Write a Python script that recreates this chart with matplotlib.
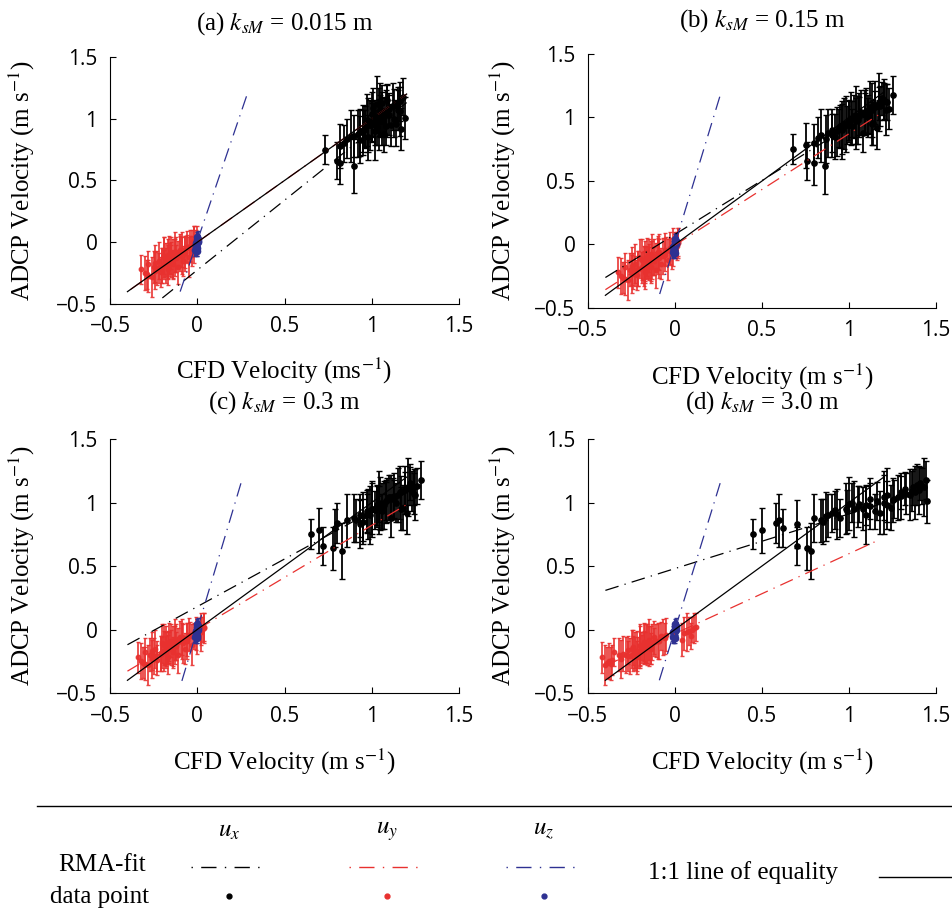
#!/usr/bin/env python3
"""CFD vs ADCP velocity comparison for four bed roughness values."""

import matplotlib
matplotlib.use("Agg")
import matplotlib.pyplot as plt

plt.rcParams["font.family"] = ["Liberation Serif", "DejaVu Serif"]
plt.rcParams["mathtext.fontset"] = "stix"

TICK_FONT = ["Open Sans", "DejaVu Sans"]

PANEL_TITLES = [r"(a) $k_{sM}$ = 0.015 m", r"(b) $k_{sM}$ = 0.15 m",
                r"(c) $k_{sM}$ = 0.3 m", r"(d) $k_{sM}$ = 3.0 m"]
XLABELS = [r"CFD Velocity (ms$^{-1}$)", r"CFD Velocity (m s$^{-1}$)",
           r"CFD Velocity (m s$^{-1}$)", r"CFD Velocity (m s$^{-1}$)"]
YLABEL = r"ADCP Velocity (m s$^{-1}$)"
TICKS = [-0.5, 0, 0.5, 1, 1.5]
TICK_LABELS = ["\u22120.5", "0", "0.5", "1", "1.5"]

# ADCP (measured) values, shared by all panels
ux_adcp = [0.75, 0.66, 0.64, 0.62, 0.78, 0.84, 0.86, 0.80, 0.88, 0.90,
           0.92, 0.85, 0.95, 0.97, 0.90, 0.93, 1.00, 1.02, 0.98, 0.88,
           1.05, 1.08, 1.03, 0.95, 1.10, 1.12, 1.00, 0.96, 1.07, 1.15,
           1.06, 0.92, 1.18, 1.04, 0.99, 1.09, 0.83, 1.13, 1.01, 0.94,
           0.97, 1.03, 0.91, 1.11, 0.86, 1.06, 0.99, 1.14, 0.89, 1.01,
           1.08, 0.95, 1.12, 0.93, 1.04, 0.98]
ux_err = [0.12, 0.15, 0.17, 0.22, 0.18, 0.16, 0.21, 0.15, 0.19, 0.17,
          0.15, 0.18, 0.20, 0.16, 0.23, 0.14, 0.25, 0.17, 0.19, 0.15,
          0.18, 0.21, 0.16, 0.17, 0.19, 0.23, 0.15, 0.18, 0.16, 0.13,
          0.20, 0.17, 0.15, 0.18, 0.21, 0.16, 0.19, 0.14, 0.17, 0.15,
          0.18, 0.15, 0.20, 0.13, 0.17, 0.21, 0.14, 0.16, 0.19, 0.15,
          0.13, 0.22, 0.14, 0.17, 0.18, 0.16]
uy_adcp = [-0.22, -0.25, -0.18, -0.28, -0.20, -0.15, -0.24, -0.19, -0.12, -0.16,
           -0.22, -0.10, -0.14, -0.18, -0.08, -0.13, -0.20, -0.06, -0.11, -0.15,
           -0.09, -0.05, -0.12, -0.03, -0.07, -0.02, -0.10, 0.00, -0.04, 0.02,
           -0.17, -0.26, -0.21, -0.13, -0.09, -0.01, -0.06, 0.01, -0.11, -0.14,
           -0.19, -0.14, -0.23, -0.10, -0.17, -0.08, -0.21, -0.12, -0.16, -0.05,
           -0.27, -0.13, -0.18, -0.09, -0.15]
uy_err = [0.12, 0.14, 0.11, 0.16, 0.13, 0.15, 0.12, 0.14, 0.16, 0.11,
          0.13, 0.15, 0.14, 0.12, 0.16, 0.11, 0.14, 0.13, 0.15, 0.12,
          0.14, 0.11, 0.16, 0.13, 0.12, 0.15, 0.14, 0.10, 0.13, 0.11,
          0.15, 0.12, 0.14, 0.16, 0.13, 0.11, 0.14, 0.12, 0.15, 0.13,
          0.14, 0.12, 0.15, 0.11, 0.16, 0.13, 0.12, 0.15, 0.14, 0.10,
          0.13, 0.16, 0.12, 0.14, 0.11]
uz_adcp = [-0.06, -0.04, -0.02, 0.00, 0.02, 0.03, -0.01,
           -0.03, 0.01, -0.05, 0.04, -0.02, 0.00, -0.07]
uz_err = [0.05, 0.04, 0.06, 0.05, 0.04, 0.06, 0.05,
          0.04, 0.05, 0.06, 0.04, 0.05, 0.06, 0.04]

# CFD (modelled) values, one list per panel
ux_cfd = [
    [0.73, 0.80, 0.82, 0.90, 0.82, 0.86, 0.88, 0.84, 0.92, 0.95,
     0.96, 0.98, 0.99, 1.00, 1.02, 1.03, 1.04, 1.05, 1.06, 1.07,
     1.08, 1.05, 1.10, 1.11, 1.12, 1.03, 1.13, 1.14, 1.15, 1.09,
     1.16, 1.17, 1.18, 1.00, 0.97, 1.01, 0.93, 1.06, 1.19, 1.08,
     1.02, 1.07, 0.95, 1.13, 0.90, 1.09, 1.01, 1.16, 0.93, 1.04,
     1.10, 0.98, 1.15, 0.96, 1.06, 1.00],
    [0.68, 0.76, 0.80, 0.86, 0.75, 0.82, 0.84, 0.80, 0.88, 0.90,
     0.94, 0.92, 0.97, 1.00, 0.96, 1.02, 1.04, 1.06, 1.05, 1.08,
     1.10, 1.12, 1.09, 1.13, 1.15, 1.17, 1.11, 1.14, 1.23, 1.19,
     1.21, 1.16, 1.25, 1.07, 1.01, 1.18, 0.87, 1.20, 1.03, 0.99,
     1.04, 1.11, 0.96, 1.17, 0.90, 1.13, 1.02, 1.20, 0.93, 1.06,
     1.15, 0.98, 1.22, 0.95, 1.09, 1.00],
    [0.65, 0.72, 0.78, 0.83, 0.70, 0.80, 0.86, 0.79, 0.90, 0.93,
     0.97, 0.95, 1.00, 1.03, 0.99, 1.06, 1.04, 1.09, 1.07, 1.11,
     1.13, 1.16, 1.12, 1.17, 1.19, 1.21, 1.14, 1.18, 1.24, 1.22,
     1.25, 1.20, 1.28, 1.10, 1.05, 1.23, 0.93, 1.26, 1.08, 1.02,
     1.06, 1.13, 0.98, 1.19, 0.91, 1.15, 1.04, 1.22, 0.95, 1.08,
     1.17, 1.00, 1.24, 0.97, 1.11, 1.03],
    [0.45, 0.70, 0.76, 0.78, 0.50, 0.58, 0.60, 0.62, 0.80, 0.88,
     0.90, 0.85, 0.98, 1.05, 1.10, 1.15, 1.20, 1.25, 1.22, 0.95,
     1.30, 1.38, 1.12, 1.08, 1.40, 1.43, 1.02, 1.24, 1.33, 1.41,
     1.35, 1.18, 1.44, 1.28, 1.00, 1.36, 0.70, 1.42, 1.45, 0.92,
     1.12, 1.26, 0.93, 1.32, 0.84, 1.22, 1.06, 1.39, 0.87, 1.16,
     1.30, 1.03, 1.37, 0.99, 1.20, 1.10],
]
uy_cfd = [
    [-0.32, -0.30, -0.28, -0.26, -0.25, -0.22, -0.21, -0.20, -0.19, -0.18,
     -0.17, -0.16, -0.15, -0.14, -0.13, -0.12, -0.11, -0.10, -0.09, -0.08,
     -0.07, -0.06, -0.05, -0.04, -0.03, -0.02, -0.12, -0.01, -0.06, 0.00,
     -0.24, -0.29, -0.23, -0.17, -0.15, -0.03, -0.09, -0.02, -0.19, -0.16,
     -0.20, -0.15, -0.24, -0.11, -0.18, -0.07, -0.22, -0.13, -0.17, -0.04,
     -0.28, -0.14, -0.19, -0.10, -0.16],
    [-0.33, -0.31, -0.29, -0.27, -0.26, -0.23, -0.22, -0.21, -0.19, -0.18,
     -0.17, -0.16, -0.15, -0.14, -0.13, -0.12, -0.11, -0.10, -0.09, -0.08,
     -0.07, -0.05, -0.04, -0.03, -0.02, -0.01, -0.12, 0.00, -0.06, 0.02,
     -0.25, -0.30, -0.24, -0.17, -0.15, 0.01, -0.09, 0.02, -0.20, -0.16,
     -0.21, -0.15, -0.25, -0.11, -0.18, -0.06, -0.23, -0.13, -0.17, -0.03,
     -0.29, -0.14, -0.19, -0.10, -0.16],
    [-0.34, -0.32, -0.30, -0.28, -0.27, -0.24, -0.23, -0.21, -0.19, -0.18,
     -0.17, -0.16, -0.15, -0.14, -0.13, -0.12, -0.11, -0.10, -0.08, -0.07,
     -0.06, -0.04, -0.03, -0.01, 0.00, 0.02, -0.12, 0.03, -0.05, 0.04,
     -0.26, -0.31, -0.25, -0.18, -0.15, 0.02, -0.09, 0.04, -0.20, -0.17,
     -0.21, -0.16, -0.26, -0.11, -0.19, -0.06, -0.23, -0.13, -0.18, -0.02,
     -0.30, -0.14, -0.20, -0.09, -0.17],
    [-0.42, -0.38, -0.35, -0.40, -0.32, -0.25, -0.36, -0.30, -0.20, -0.27,
     -0.22, -0.18, -0.24, -0.21, -0.15, -0.19, -0.28, -0.12, -0.17, -0.14,
     -0.10, -0.08, -0.16, 0.05, -0.06, 0.07, -0.13, 0.10, -0.05, 0.12,
     -0.23, -0.39, -0.26, -0.20, -0.11, 0.08, -0.07, 0.11, -0.16, -0.18,
     -0.24, -0.17, -0.31, -0.12, -0.22, 0.04, -0.27, -0.14, -0.20, 0.09,
     -0.37, -0.15, -0.23, -0.09, -0.19],
]
uz_cfd = [
    [-0.012, -0.008, -0.005, -0.003, 0.000, 0.002, -0.010,
     -0.006, 0.003, -0.004, 0.001, -0.009, 0.005, -0.002],
    [-0.010, -0.007, -0.004, -0.002, 0.001, 0.003, -0.008,
     -0.005, 0.004, -0.003, 0.002, -0.009, 0.006, -0.001],
    [-0.011, -0.008, -0.006, -0.002, 0.000, 0.003, -0.009,
     -0.005, 0.002, -0.004, 0.001, -0.010, 0.004, -0.002],
    [-0.010, -0.006, -0.004, -0.001, 0.002, 0.004, -0.008,
     -0.004, 0.003, -0.003, 0.002, -0.009, 0.005, -0.001],
]

# RMA fits per panel: slope, intercept, x range
ux_fit = [(1.13, -0.225, -0.20, 1.20), (0.85, 0.08, -0.40, 1.20),
          (0.75, 0.18, -0.40, 1.20), (0.43, 0.48, -0.40, 1.20)]
uy_fit = [(1.00, 0.00, -0.38, 1.20), (0.877, -0.005, -0.40, 1.18),
          (0.82, 0.00, -0.40, 1.195), (0.63, -0.033, -0.40, 1.165)]
uz_fit = [(4.16, 0.008, -0.098, 0.287), (4.50, 0.006, -0.088, 0.264),
          (4.60, 0.00, -0.088, 0.258), (4.44, 0.00, -0.09, 0.27)]
EQ_RANGE = (-0.40, 1.20)

C_X = "black"
C_Y = "#e8312f"
C_Z = "#2e3192"
DASHDOT = (0, (11, 5, 1, 5))

W, H = 952, 921
# axes boxes in pixels: left, top, right, bottom
BOXES = [(110, 57, 459, 304), (588, 54, 936, 308),
         (110, 439, 459, 693), (588, 439, 936, 693)]
YLAB_X = [-0.21, -0.20, -0.21, -0.20]
TITLE_PAD = [20, 19.5, 22, 22]

fig = plt.figure(figsize=(W / 100, H / 100), dpi=100)

for i, (l, t, r, b) in enumerate(BOXES):
    ax = fig.add_axes([l / W, 1 - b / H, (r - l) / W, (b - t) / H])
    ax.errorbar(uy_cfd[i], uy_adcp, yerr=uy_err, fmt="o", color=C_Y, ms=3.2,
                elinewidth=1.3, capsize=1.2, alpha=0.9, zorder=2)
    ax.errorbar(ux_cfd[i], ux_adcp, yerr=ux_err, fmt="o", color=C_X, ms=3.8,
                elinewidth=1.3, capsize=2.2, zorder=3)
    ax.errorbar(uz_cfd[i], uz_adcp, yerr=uz_err, fmt="o", color=C_Z, ms=4.5,
                elinewidth=1.4, capsize=1.2, zorder=4)

    for fit, col in ((ux_fit[i], C_X), (uy_fit[i], C_Y), (uz_fit[i], C_Z)):
        m, c, x0, x1 = fit
        ax.plot([x0, x1], [m * x0 + c, m * x1 + c], color=col, lw=0.9,
                linestyle=DASHDOT, zorder=5)
    ax.plot(EQ_RANGE, EQ_RANGE, color="black", lw=0.9, zorder=5)

    ax.set_xlim(-0.5, 1.5)
    ax.set_ylim(-0.5, 1.5)
    ax.set_xticks(TICKS)
    ax.set_yticks(TICKS)
    ax.set_xticklabels(TICK_LABELS)
    ax.set_yticklabels(TICK_LABELS)
    ax.tick_params(direction="in", length=4, width=0.8, pad=9,
                   top=False, right=False)
    for lab in ax.get_xticklabels() + ax.get_yticklabels():
        lab.set_family(TICK_FONT)
        lab.set_fontsize(15)
    for side in ("top", "right"):
        ax.spines[side].set_visible(False)
    for side in ("left", "bottom"):
        ax.spines[side].set_linewidth(0.8)

    ax.set_xlabel(XLABELS[i], fontsize=18)
    ax.set_ylabel(YLABEL, fontsize=18)
    ax.xaxis.set_label_coords(0.5, -0.21)
    ax.yaxis.set_label_coords(YLAB_X[i], 0.5)
    ax.annotate(PANEL_TITLES[i], xy=(0.5, 1), xycoords="axes fraction",
                xytext=(0, TITLE_PAD[i]), textcoords="offset points",
                ha="center", va="baseline", fontsize=18)

# legend block along the bottom, drawn in pixel space
leg = fig.add_axes([0, 0, 1, 1], zorder=-1)
leg.set_xlim(0, W)
leg.set_ylim(H, 0)
leg.axis("off")
leg.plot([37, W], [806, 806], color="black", lw=1.0)

LEG_LINE = (0, (1, 6, 11, 6))
comps = [(r"$u_x$", C_X, 229), (r"$u_y$", C_Y, 387), (r"$u_z$", C_Z, 544)]
for label, col, cx in comps:
    leg.text(cx, 831, label, ha="center", va="center", fontsize=18)
    leg.plot([cx - 38, cx + 38], [867, 867], color=col, lw=1.0,
             linestyle=LEG_LINE)
    leg.plot([cx], [896], "o", color=col, ms=3.5)

leg.text(102, 865, "RMA-fit", ha="center", va="center", fontsize=18)
leg.text(100, 897, "data point", ha="center", va="center", fontsize=18)
leg.text(648, 873, "1:1 line of equality", ha="left", va="center", fontsize=18)
leg.plot([879, W], [877, 877], color="black", lw=1.0)

fig.savefig("out.png", dpi=100)
